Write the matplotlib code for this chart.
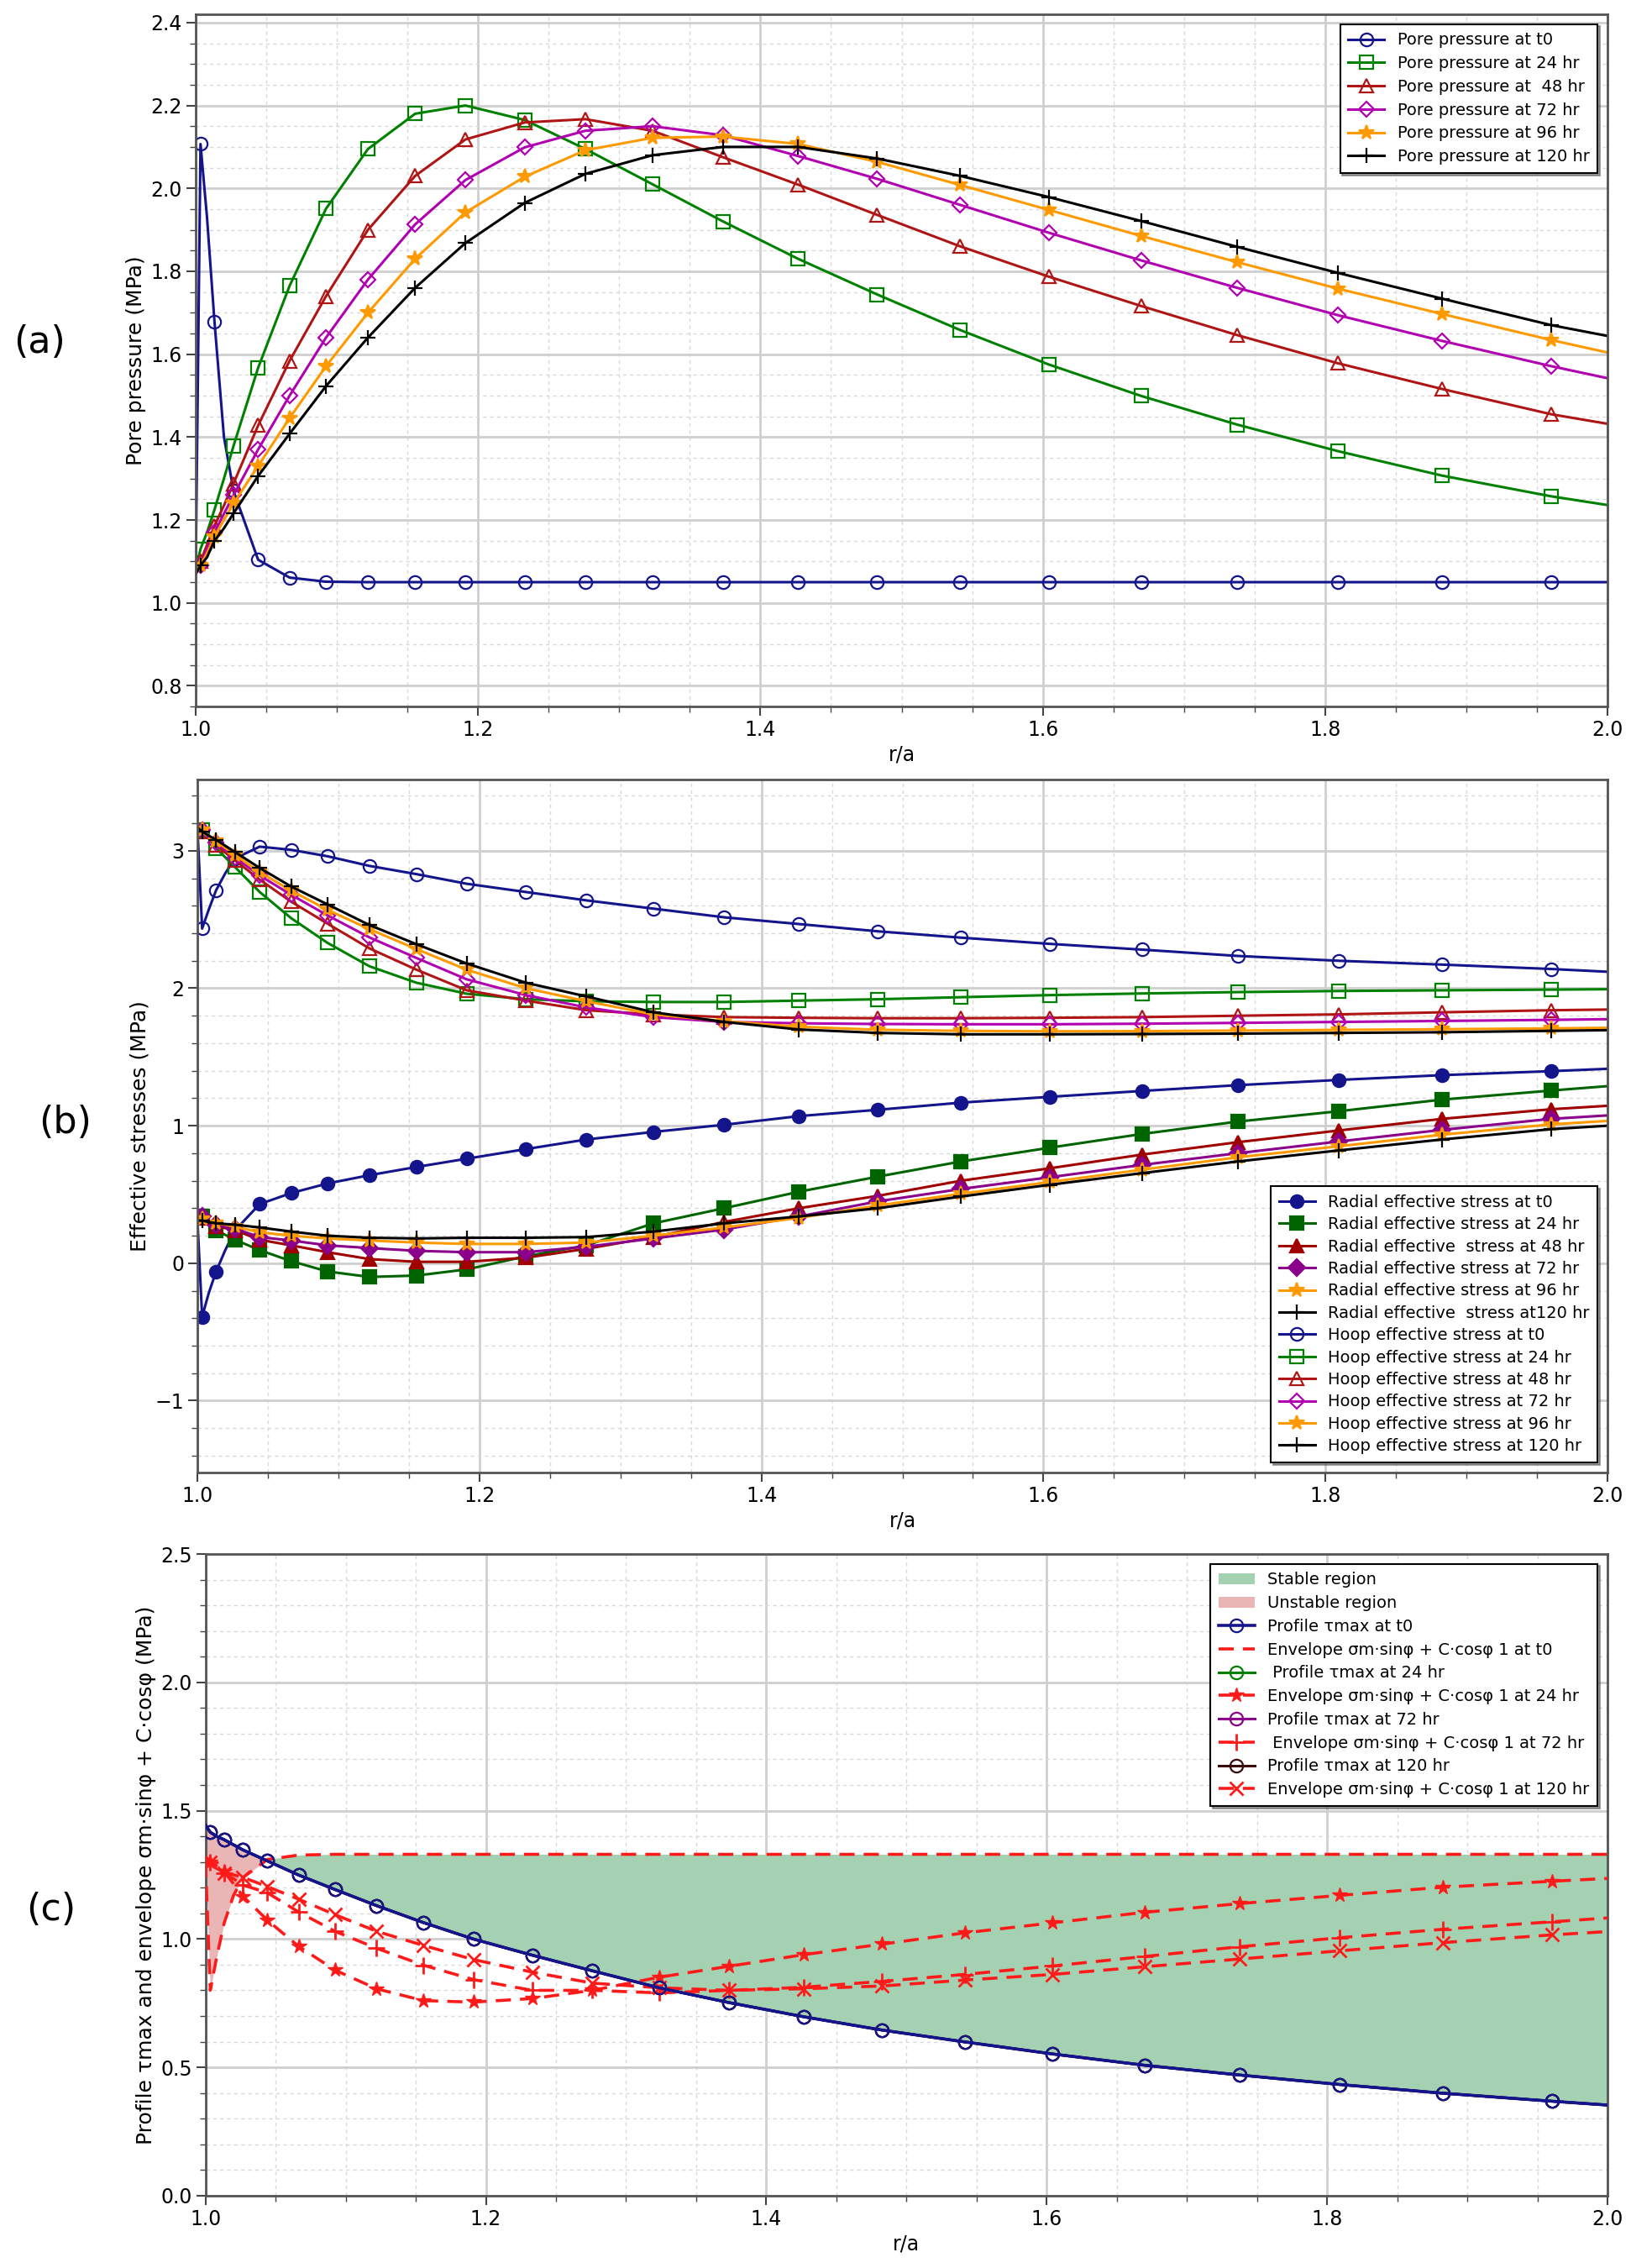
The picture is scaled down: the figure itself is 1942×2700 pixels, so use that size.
# plot.py
# Pore pressure, effective stresses and stability envelope around a wellbore

### Imports ###
import matplotlib
matplotlib.use('agg')
import matplotlib.pyplot as plt
from matplotlib.patches import Patch
from matplotlib.ticker import MultipleLocator, FormatStrFormatter, FuncFormatter

### Data ###
# r/a positions; markers sit on every point except 1.0, 1.008, 1.02 and 2.0
R = [1.0, 1.0034, 1.008, 1.0133, 1.02, 1.0268, 1.0442, 1.0665, 1.0923, 1.122,
     1.1554, 1.191, 1.233, 1.276, 1.3235, 1.3736, 1.4267, 1.4827, 1.5416,
     1.6043, 1.6699, 1.7377, 1.8091, 1.8828, 1.9602, 2.0]
MARK = [1, 3] + list(range(5, 25))

# (a) pore pressure (MPa)
P_T0 = [1.08, 2.107, 1.93, 1.678, 1.40, 1.27, 1.104, 1.061, 1.051, 1.05,
        1.05, 1.05, 1.05, 1.05, 1.05, 1.05, 1.05, 1.05, 1.05, 1.05, 1.05,
        1.05, 1.05, 1.05, 1.05, 1.05]
P_24 = [1.08, 1.13, 1.17, 1.225, 1.30, 1.379, 1.567, 1.765, 1.951, 2.095,
        2.18, 2.20, 2.165, 2.095, 2.01, 1.92, 1.83, 1.744, 1.658, 1.575,
        1.499, 1.43, 1.366, 1.307, 1.257, 1.236]
P_48 = [1.07, 1.10, 1.14, 1.186, 1.235, 1.288, 1.428, 1.584, 1.74, 1.90,
        2.03, 2.118, 2.159, 2.167, 2.139, 2.075, 2.009, 1.936, 1.86, 1.787,
        1.716, 1.646, 1.578, 1.516, 1.455, 1.432]
P_72 = [1.07, 1.09, 1.13, 1.17, 1.215, 1.26, 1.37, 1.50, 1.64, 1.78,
        1.913, 2.02, 2.099, 2.139, 2.15, 2.128, 2.078, 2.023, 1.96, 1.893,
        1.826, 1.76, 1.694, 1.632, 1.571, 1.542]
P_96 = [1.07, 1.09, 1.12, 1.16, 1.20, 1.24, 1.33, 1.446, 1.571, 1.70,
        1.83, 1.942, 2.028, 2.092, 2.122, 2.125, 2.107, 2.064, 2.008, 1.948,
        1.885, 1.822, 1.758, 1.697, 1.634, 1.604]
P_120 = [1.07, 1.09, 1.11, 1.15, 1.18, 1.216, 1.306, 1.408, 1.523, 1.64,
         1.76, 1.868, 1.965, 2.035, 2.08, 2.10, 2.10, 2.072, 2.03, 1.979,
         1.921, 1.859, 1.796, 1.734, 1.67, 1.644]

# (b) radial effective stress (MPa)
RAD_T0 = [0.33, -0.39, -0.22, -0.06, 0.10, 0.24, 0.43, 0.51, 0.58, 0.64,
          0.70, 0.76, 0.83, 0.90, 0.955, 1.007, 1.07, 1.116, 1.168, 1.21,
          1.253, 1.295, 1.333, 1.368, 1.397, 1.414]
RAD_24 = [0.33, 0.34, 0.29, 0.24, 0.205, 0.17, 0.095, 0.015, -0.06, -0.10,
          -0.09, -0.045, 0.05, 0.13, 0.29, 0.40, 0.52, 0.63, 0.74, 0.84,
          0.94, 1.03, 1.105, 1.19, 1.256, 1.288]
RAD_48 = [0.33, 0.33, 0.30, 0.27, 0.255, 0.24, 0.17, 0.13, 0.08, 0.03,
          0.01, 0.01, 0.04, 0.105, 0.19, 0.30, 0.40, 0.49, 0.60, 0.69,
          0.79, 0.88, 0.965, 1.05, 1.12, 1.145]
RAD_72 = [0.34, 0.34, 0.31, 0.28, 0.265, 0.25, 0.19, 0.165, 0.13, 0.11,
          0.09, 0.08, 0.08, 0.12, 0.18, 0.245, 0.34, 0.45, 0.54, 0.625,
          0.715, 0.80, 0.885, 0.97, 1.05, 1.075]
RAD_96 = [0.33, 0.32, 0.305, 0.29, 0.28, 0.265, 0.225, 0.20, 0.18, 0.165,
          0.15, 0.14, 0.14, 0.15, 0.20, 0.26, 0.33, 0.42, 0.505, 0.59,
          0.68, 0.77, 0.85, 0.935, 1.01, 1.035]
RAD_120 = [0.31, 0.31, 0.30, 0.29, 0.285, 0.28, 0.26, 0.23, 0.20, 0.185,
           0.18, 0.185, 0.185, 0.19, 0.23, 0.29, 0.34, 0.40, 0.485, 0.57,
           0.655, 0.74, 0.82, 0.90, 0.975, 1.0]

# (b) hoop effective stress (MPa)
HOOP_T0 = [3.18, 2.434, 2.57, 2.713, 2.84, 2.945, 3.03, 3.007, 2.96, 2.89,
           2.83, 2.76, 2.70, 2.639, 2.579, 2.516, 2.467, 2.414, 2.368, 2.323,
           2.281, 2.235, 2.20, 2.172, 2.14, 2.12]
HOOP_24 = [3.17, 3.15, 3.09, 3.02, 2.95, 2.88, 2.70, 2.51, 2.33, 2.16,
           2.04, 1.96, 1.92, 1.905, 1.90, 1.90, 1.91, 1.92, 1.935, 1.95,
           1.962, 1.972, 1.98, 1.985, 1.99, 1.993]
HOOP_48 = [3.18, 3.14, 3.09, 3.04, 2.985, 2.93, 2.79, 2.63, 2.47, 2.29,
           2.135, 1.985, 1.91, 1.84, 1.81, 1.79, 1.785, 1.782, 1.782, 1.785,
           1.79, 1.80, 1.81, 1.825, 1.84, 1.845]
HOOP_72 = [3.19, 3.15, 3.10, 3.06, 3.005, 2.95, 2.82, 2.68, 2.53, 2.37,
           2.22, 2.065, 1.95, 1.86, 1.79, 1.755, 1.745, 1.74, 1.738, 1.738,
           1.742, 1.748, 1.755, 1.762, 1.77, 1.775]
HOOP_96 = [3.18, 3.15, 3.11, 3.07, 3.02, 2.97, 2.845, 2.71, 2.57, 2.43,
           2.285, 2.135, 2.0, 1.905, 1.81, 1.76, 1.72, 1.698, 1.69, 1.687,
           1.688, 1.692, 1.697, 1.702, 1.708, 1.712]
HOOP_120 = [3.17, 3.14, 3.11, 3.08, 3.035, 2.99, 2.875, 2.74, 2.61, 2.46,
            2.32, 2.18, 2.04, 1.94, 1.825, 1.755, 1.70, 1.675, 1.665, 1.665,
            1.667, 1.67, 1.675, 1.68, 1.69, 1.695]

# (c) max shear stress profile and Mohr-Coulomb envelope (MPa)
TAU = [1.443, 1.416, 1.40, 1.387, 1.367, 1.347, 1.304, 1.249, 1.193, 1.13,
       1.064, 1.0, 0.937, 0.876, 0.81, 0.752, 0.697, 0.645, 0.599, 0.552,
       0.508, 0.47, 0.433, 0.399, 0.368, 0.353]
ENV_T0 = [1.30, 0.80, 0.93, 1.062, 1.17, 1.24, 1.31, 1.327, 1.33, 1.33,
          1.33, 1.33, 1.33, 1.33, 1.33, 1.33, 1.33, 1.33, 1.33, 1.33, 1.33,
          1.33, 1.33, 1.33, 1.33, 1.33]
ENV_24 = [1.32, 1.30, 1.285, 1.264, 1.215, 1.166, 1.073, 0.971, 0.879, 0.806,
          0.76, 0.754, 0.768, 0.80, 0.851, 0.894, 0.939, 0.98, 1.024, 1.063,
          1.104, 1.138, 1.17, 1.202, 1.225, 1.236]
ENV_72 = [1.32, 1.30, 1.28, 1.255, 1.235, 1.21, 1.18, 1.105, 1.03, 0.964,
          0.898, 0.842, 0.80, 0.80, 0.79, 0.80, 0.812, 0.835, 0.862, 0.895,
          0.932, 0.97, 1.005, 1.038, 1.067, 1.082]
ENV_120 = [1.32, 1.30, 1.28, 1.258, 1.25, 1.24, 1.204, 1.155, 1.095, 1.03,
           0.975, 0.92, 0.871, 0.828, 0.81, 0.80, 0.806, 0.817, 0.84, 0.862,
           0.892, 0.922, 0.954, 0.986, 1.016, 1.029]

### Styling ###
NAVY = '#14148c'
GREEN = '#008000'
DKGREEN = '#006400'
RED = '#b01515'
DKRED = '#a00000'
MAGENTA = '#b000b0'
PURPLE = '#8b008b'
ORANGE = '#ff9900'
ENV_RED = '#ff1a1a'

plt.rcParams['font.family'] = ['DejaVu Sans']
TICK_FS = 17
LABEL_FS = 18
LEG_FS = 14


def style_axes(ax, ylim, ymajor, yminor, yfmt):
    ax.set_xlim(1.0, 2.0)
    ax.set_ylim(*ylim)
    ax.xaxis.set_major_locator(MultipleLocator(0.2))
    ax.xaxis.set_minor_locator(MultipleLocator(0.05))
    ax.yaxis.set_major_locator(MultipleLocator(ymajor))
    ax.yaxis.set_minor_locator(MultipleLocator(yminor))
    ax.xaxis.set_major_formatter(FormatStrFormatter('%.1f'))
    ax.yaxis.set_major_formatter(yfmt)
    ax.grid(which='major', color='#cfcfcf', linewidth=2.0, linestyle='-')
    ax.grid(which='minor', color='#d9d9d9', linewidth=1.0, linestyle=(0, (3, 3)))
    ax.set_axisbelow(True)
    ax.tick_params(which='both', direction='out', top=False, right=False,
                   labelsize=TICK_FS, color='#444444')
    ax.tick_params(which='major', length=8, width=1.5)
    ax.tick_params(which='minor', length=5, width=1.0)
    for sp in ax.spines.values():
        sp.set_color('#555555')
        sp.set_linewidth(2.0)
    ax.set_xlabel('r/a', fontsize=TICK_FS)


def add_legend(ax, handles, labels, loc, spacing):
    leg = ax.legend(handles, labels, loc=loc, fontsize=LEG_FS,
                    labelspacing=spacing, fancybox=False, shadow=True,
                    framealpha=1.0, edgecolor='black', borderaxespad=0.6,
                    handlelength=2.2, borderpad=0.5)
    leg.get_frame().set_linewidth(1.5)
    return leg


one_dec = FormatStrFormatter('%.1f')
int_minus = FuncFormatter(lambda v, pos: f'{v:.0f}'.replace('-', '\u2212'))

fig = plt.figure(figsize=(19.42, 27), dpi=100)

### (a) Pore pressure ###
ax1 = fig.add_axes([0.120, 0.6885, 0.8656, 0.3052])
pore = [(P_T0, NAVY, 'o', 'Pore pressure at t0'),
        (P_24, GREEN, 's', 'Pore pressure at 24 hr'),
        (P_48, RED, '^', 'Pore pressure at  48 hr'),
        (P_72, MAGENTA, 'D', 'Pore pressure at 72 hr'),
        (P_96, ORANGE, '*', 'Pore pressure at 96 hr'),
        (P_120, 'k', '+', 'Pore pressure at 120 hr')]
h1 = []
for vals, col, mk, lab in pore:
    filled = mk in ('*', '+')
    ms = 13 if filled else (9 if mk == 'D' else 11)
    ln, = ax1.plot(R, vals, color=col, lw=2.2, marker=mk, markevery=MARK,
                   markersize=ms, mfc=col if filled else 'none', mec=col,
                   mew=1.6, label=lab)
    h1.append(ln)
style_axes(ax1, (0.75, 2.42), 0.2, 0.05, one_dec)
ax1.set_ylabel('Pore pressure (MPa)', fontsize=LABEL_FS)
add_legend(ax1, h1, [p[3] for p in pore], 'upper right', 0.45)

### (b) Effective stresses ###
ax2 = fig.add_axes([0.121, 0.3509, 0.8646, 0.3055])
radial = [(RAD_T0, NAVY, 'o', 'Radial effective stress at t0'),
          (RAD_24, DKGREEN, 's', 'Radial effective stress at 24 hr'),
          (RAD_48, DKRED, '^', 'Radial effective  stress at 48 hr'),
          (RAD_72, PURPLE, 'D', 'Radial effective stress at 72 hr'),
          (RAD_96, ORANGE, '*', 'Radial effective stress at 96 hr'),
          (RAD_120, 'k', '+', 'Radial effective  stress at120 hr')]
hoop = [(HOOP_T0, NAVY, 'o', 'Hoop effective stress at t0'),
        (HOOP_24, GREEN, 's', 'Hoop effective stress at 24 hr'),
        (HOOP_48, RED, '^', 'Hoop effective stress at 48 hr'),
        (HOOP_72, MAGENTA, 'D', 'Hoop effective stress at 72 hr'),
        (HOOP_96, ORANGE, '*', 'Hoop effective stress at 96 hr'),
        (HOOP_120, 'k', '+', 'Hoop effective stress at 120 hr')]
h2 = []
for vals, col, mk, lab in radial:
    ms = 13 if mk in ('*', '+') else (10 if mk == 'D' else 11)
    ln, = ax2.plot(R, vals, color=col, lw=2.2, marker=mk, markevery=MARK,
                   markersize=ms, mfc=col, mec=col, mew=1.6, label=lab)
    h2.append(ln)
for vals, col, mk, lab in hoop:
    filled = mk in ('*', '+')
    ms = 13 if filled else (9 if mk == 'D' else 11)
    ln, = ax2.plot(R, vals, color=col, lw=2.2, marker=mk, markevery=MARK,
                   markersize=ms, mfc=col if filled else 'none', mec=col,
                   mew=1.6, label=lab)
    h2.append(ln)
style_axes(ax2, (-1.52, 3.52), 1.0, 0.2, int_minus)
ax2.set_ylabel('Effective stresses (MPa)', fontsize=LABEL_FS)
add_legend(ax2, h2, [s[3] for s in radial + hoop], 'lower right', 0.38)

### (c) Stability ###
ax3 = fig.add_axes([0.126, 0.0319, 0.8596, 0.2829])
stable = [e >= t for e, t in zip(ENV_T0, TAU)]
unstable = [not s for s in stable]
ax3.fill_between(R, TAU, ENV_T0, where=stable, interpolate=True,
                 color='#a4d1b2', lw=0, zorder=1)
ax3.fill_between(R, TAU, ENV_T0, where=unstable, interpolate=True,
                 color='#eab5b5', lw=0, zorder=1)

profiles = [(GREEN, ' Profile τmax at 24 hr'),
            (PURPLE, 'Profile τmax at 72 hr'),
            ('#3a0a0a', 'Profile τmax at 120 hr')]
hp = {}
for col, lab in profiles:
    ln, = ax3.plot(R, TAU, color=col, lw=2.2, marker='o', markevery=MARK,
                   markersize=11, mfc='none', mec=col, mew=1.6, zorder=3)
    hp[lab] = ln
p_t0, = ax3.plot(R, TAU, color=NAVY, lw=2.6, marker='o', markevery=MARK,
                 markersize=11, mfc='none', mec=NAVY, mew=1.6, zorder=5)

e_t0, = ax3.plot(R, ENV_T0, color=ENV_RED, lw=2.6, ls='--', dashes=(5, 3),
                 zorder=4)
e_24, = ax3.plot(R, ENV_24, color=ENV_RED, lw=2.6, ls='--', dashes=(5, 3),
                 marker='*', markevery=MARK, markersize=13, mfc=ENV_RED,
                 mec=ENV_RED, zorder=4)
e_72, = ax3.plot(R, ENV_72, color=ENV_RED, lw=2.6, ls='--', dashes=(5, 3),
                 marker='+', markevery=MARK, markersize=14, mew=2.0,
                 mec=ENV_RED, zorder=4)
e_120, = ax3.plot(R, ENV_120, color=ENV_RED, lw=2.6, ls='--', dashes=(5, 3),
                  marker='x', markevery=MARK, markersize=11, mew=2.0,
                  mec=ENV_RED, zorder=4)

style_axes(ax3, (0.0, 2.5), 0.5, 0.1, one_dec)
ax3.set_ylabel('Profile τmax and envelope σm·sinφ + C·cosφ (MPa)',
               fontsize=LABEL_FS)
h3 = [Patch(facecolor='#a4d1b2', edgecolor='none'),
      Patch(facecolor='#eab5b5', edgecolor='none'),
      p_t0, e_t0, hp[' Profile τmax at 24 hr'], e_24,
      hp['Profile τmax at 72 hr'], e_72, hp['Profile τmax at 120 hr'], e_120]
l3 = ['Stable region', 'Unstable region', 'Profile τmax at t0',
      'Envelope σm·sinφ + C·cosφ 1 at t0', ' Profile τmax at 24 hr',
      'Envelope σm·sinφ + C·cosφ 1 at 24 hr', 'Profile τmax at 72 hr',
      ' Envelope σm·sinφ + C·cosφ 1 at 72 hr', 'Profile τmax at 120 hr',
      'Envelope σm·sinφ + C·cosφ 1 at 120 hr']
add_legend(ax3, h3, l3, 'upper right', 0.45)

### Panel letters ###
fig.text(0.024, 0.849, '(a)', fontsize=32, ha='center', va='center')
fig.text(0.040, 0.505, '(b)', fontsize=32, ha='center', va='center')
fig.text(0.031, 0.158, '(c)', fontsize=32, ha='center', va='center')

fig.savefig('out.png', dpi=100)
plt.close(fig)
